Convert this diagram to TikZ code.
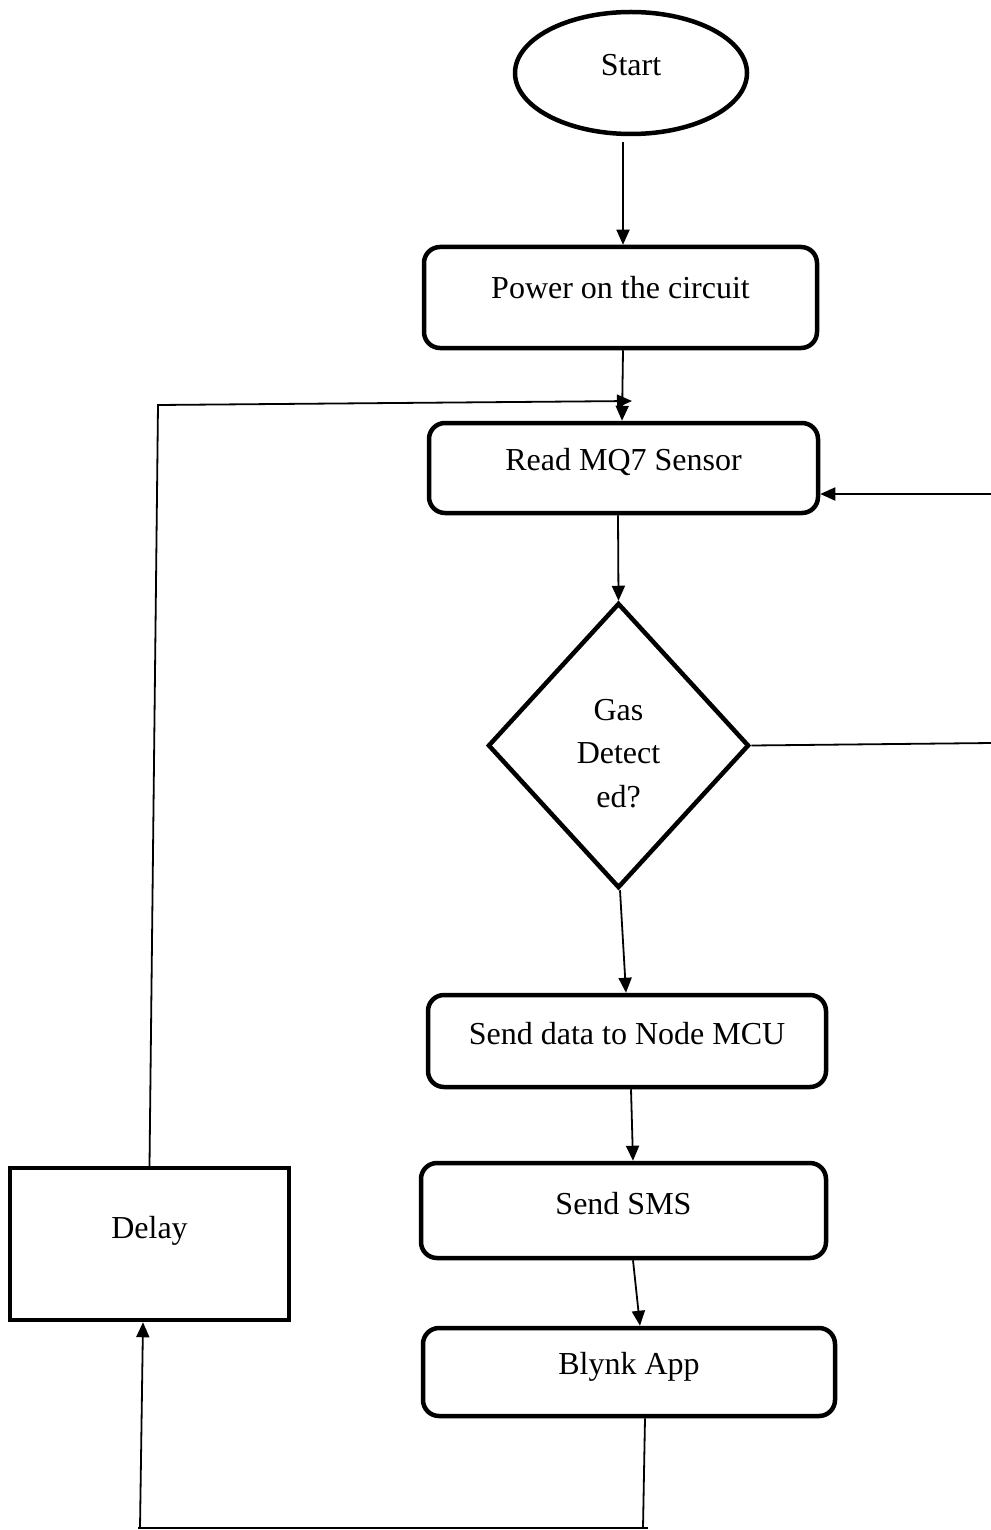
\documentclass[tikz,border=0pt]{standalone}
\usepackage{fontspec}
\setmainfont{Liberation Serif}
\usetikzlibrary{shapes.geometric,arrows.meta}
\begin{document}
\begin{tikzpicture}[x=1pt,y=-1pt,
  every node/.style={font=\fontsize{32}{43.5}\selectfont},
  rbox/.style={draw,line width=4.5pt,rounded corners=16pt,inner sep=0pt},
  sbox/.style={draw,line width=4.5pt,inner sep=0pt},
  conn/.style={line width=1.8pt},
  arr/.style={conn,-{Triangle[length=15pt,width=13pt]}}]
\useasboundingbox (0,0) rectangle (990,1530);
\fill[white] (0,0) rectangle (990,1530);
% nodes
\node[draw,ellipse,line width=4.5pt,minimum width=232pt,minimum height=122pt,inner sep=0pt,
      label={[yshift=8pt]center:Start}] (start) at (631,73) {};
\node[rbox,minimum width=393pt,minimum height=101pt,
      label={[yshift=10pt]center:Power on the circuit}] (power) at (620.5,297.5) {};
\node[rbox,minimum width=389pt,minimum height=90pt,
      label={[yshift=6pt]center:Read MQ7 Sensor}] (read) at (623.5,468) {};
\node[draw,diamond,line width=4.5pt,minimum width=261pt,minimum height=285pt,inner sep=0pt,
      label={[align=center,yshift=-8pt]center:Gas\\Detect\\ed?}] (gas) at (618.5,745.5) {};
\node[rbox,minimum width=398pt,minimum height=92pt,
      label={[yshift=7pt]center:Send data to Node MCU}] (send) at (627,1041) {};
\node[rbox,minimum width=405pt,minimum height=95pt,
      label={[yshift=7pt]center:Send SMS}] (sms) at (623.5,1210.5) {};
\node[rbox,minimum width=412pt,minimum height=88pt,
      label={[yshift=5pt]center:Blynk App}] (blynk) at (629,1372) {};
\node[sbox,minimum width=279pt,minimum height=152pt,
      label={[yshift=13pt]center:Delay}] (delay) at (149.5,1244) {};
% coordinates
\coordinate (c1) at (158,405);
\coordinate (rin) at (632,401);
\coordinate (r1) at (992,494);
\coordinate (r2) at (992,743);
\coordinate (b1) at (643,1528);
\coordinate (b2) at (138,1528);
\coordinate (b3) at (140,1528);
% connectors
\draw[arr] ([xshift=-8pt]start.south) ++(0,6) -- ([xshift=2.5pt]power.north);
\draw[arr] ([xshift=2.5pt]power.south) -- ([xshift=-1.5pt]read.north);
\draw[arr] ([xshift=-5.5pt]read.south) -- (gas.north);
\draw[arr] ([xshift=1.5pt]gas.south) -- ([xshift=-1pt]send.north);
\draw[arr] ([xshift=4pt]send.south) -- ([xshift=9.5pt]sms.north);
\draw[arr] ([xshift=9.5pt]sms.south) -- ([xshift=11pt]blynk.north);
\draw[arr] (delay.north) -- (c1) -- (rin);
\draw[arr] (r1) -- (r1 -| read.east);
\draw[conn] (gas.east) -- (r2);
\draw[conn] ([xshift=16pt]blynk.south) -- (b1);
\draw[conn] ([xshift=5pt]b1) -- (b2);
\draw[arr] (b3) -- ([xshift=-6.5pt]delay.south);
\end{tikzpicture}
\end{document}
